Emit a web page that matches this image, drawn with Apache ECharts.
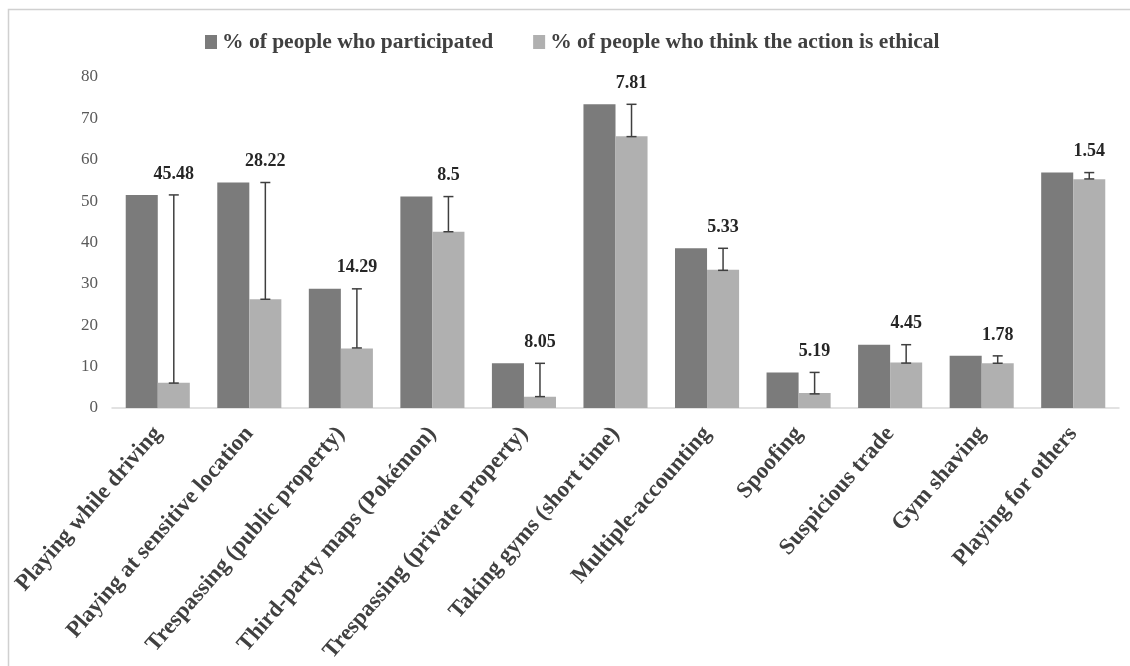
<!DOCTYPE html>
<html>
<head>
<meta charset="utf-8">
<script src="https://cdn.jsdelivr.net/npm/echarts@6/dist/echarts.min.js"></script>
<style>
html,body{margin:0;padding:0;background:#fff;}
#c{width:1130px;height:666px;}
</style>
</head>
<body>
<div id="c"></div>
<script>
const categories = ["Playing while driving","Playing at sensitive location","Trespassing (public property)","Third-party maps (Pokémon)","Trespassing (private property)","Taking gyms (short time)","Multiple-accounting","Spoofing","Suspicious trade","Gym shaving","Playing for others"];
const participated = [51.5, 54.5, 28.8, 51.1, 10.8, 73.4, 38.6, 8.6, 15.3, 12.6, 56.9];
const ethical = [6.1, 26.3, 14.4, 42.6, 2.7, 65.7, 33.4, 3.6, 11.0, 10.8, 55.3];
const differences = [45.48, 28.22, 14.29, 8.5, 8.05, 7.81, 5.33, 5.19, 4.45, 1.78, 1.54];
const yTicks = [0, 10, 20, 30, 40, 50, 60, 70, 80];

const errData = categories.map((c, i) => [i, participated[i] - differences[i], participated[i], differences[i]]);

const chart = echarts.init(document.getElementById('c'));
const serif = "'Liberation Serif', 'DejaVu Serif', serif";
chart.setOption({
  backgroundColor: '#fff',
  animation: false,
  graphic: [{
    type: 'rect', left: 6, top: 7, silent: true,
    shape: {width: 1200, height: 720},
    style: {fill: 'none', stroke: '#d0d0d0', lineWidth: 1.5}
  }],
  legend: {
    top: 26, left: 200,
    itemWidth: 12, itemHeight: 14, itemGap: 40,
    icon: 'rect',
    textStyle: {fontFamily: serif, fontWeight: 'bold', fontSize: 21.5, color: '#404040'},
    data: ['% of people who participated', '% of people who think the action is ethical']
  },
  grid: {left: 112, right: 11, top: 77, bottom: 258, containLabel: false},
  xAxis: {
    type: 'category',
    data: categories,
    axisLine: {lineStyle: {color: '#d9d9d9', width: 1.5}},
    axisTick: {show: false},
    axisLabel: {
      interval: 0, rotate: 49, margin: 22,
      fontFamily: serif, fontWeight: 'bold', fontSize: 23, color: '#404040'
    }
  },
  yAxis: {
    type: 'value', min: 0, max: 80, interval: 10,
    axisLine: {show: false}, axisTick: {show: false},
    splitLine: {show: false},
    axisLabel: {
      margin: 14, fontFamily: serif, fontSize: 17, color: '#595959',
      formatter: v => yTicks.includes(v) ? String(v) : ''
    }
  },
  series: [
    {
      name: '% of people who participated', type: 'bar', data: participated,
      barWidth: '35%', barGap: '0%',
      itemStyle: {color: '#7b7b7b'}
    },
    {
      name: '% of people who think the action is ethical', type: 'bar', data: ethical,
      barWidth: '35%',
      itemStyle: {color: '#b0b0b0'}
    },
    {
      type: 'custom', name: 'err', data: errData, z: 10,
      encode: {x: 0, y: [1, 2]},
      renderItem: function (params, api) {
        const idx = api.value(0);
        const lo = api.coord([idx, api.value(1)]);
        const hi = api.coord([idx, api.value(2)]);
        const band = api.size([1, 0])[0];
        const x = lo[0] + band * 0.175;
        const cap = 5;
        const st = {stroke: '#3f3f3f', lineWidth: 1.5};
        return {
          type: 'group',
          children: [
            {type: 'line', shape: {x1: x, y1: lo[1], x2: x, y2: hi[1]}, style: st},
            {type: 'line', shape: {x1: x - cap, y1: lo[1], x2: x + cap, y2: lo[1]}, style: st},
            {type: 'line', shape: {x1: x - cap, y1: hi[1], x2: x + cap, y2: hi[1]}, style: st},
            {type: 'text', x: x, y: hi[1] - 12,
              style: {text: String(api.value(3)), fill: '#262626', font: "bold 18px 'Liberation Serif', serif", textAlign: 'center', textVerticalAlign: 'bottom'}}
          ]
        };
      }
    }
  ]
});
</script>
</body>
</html>
